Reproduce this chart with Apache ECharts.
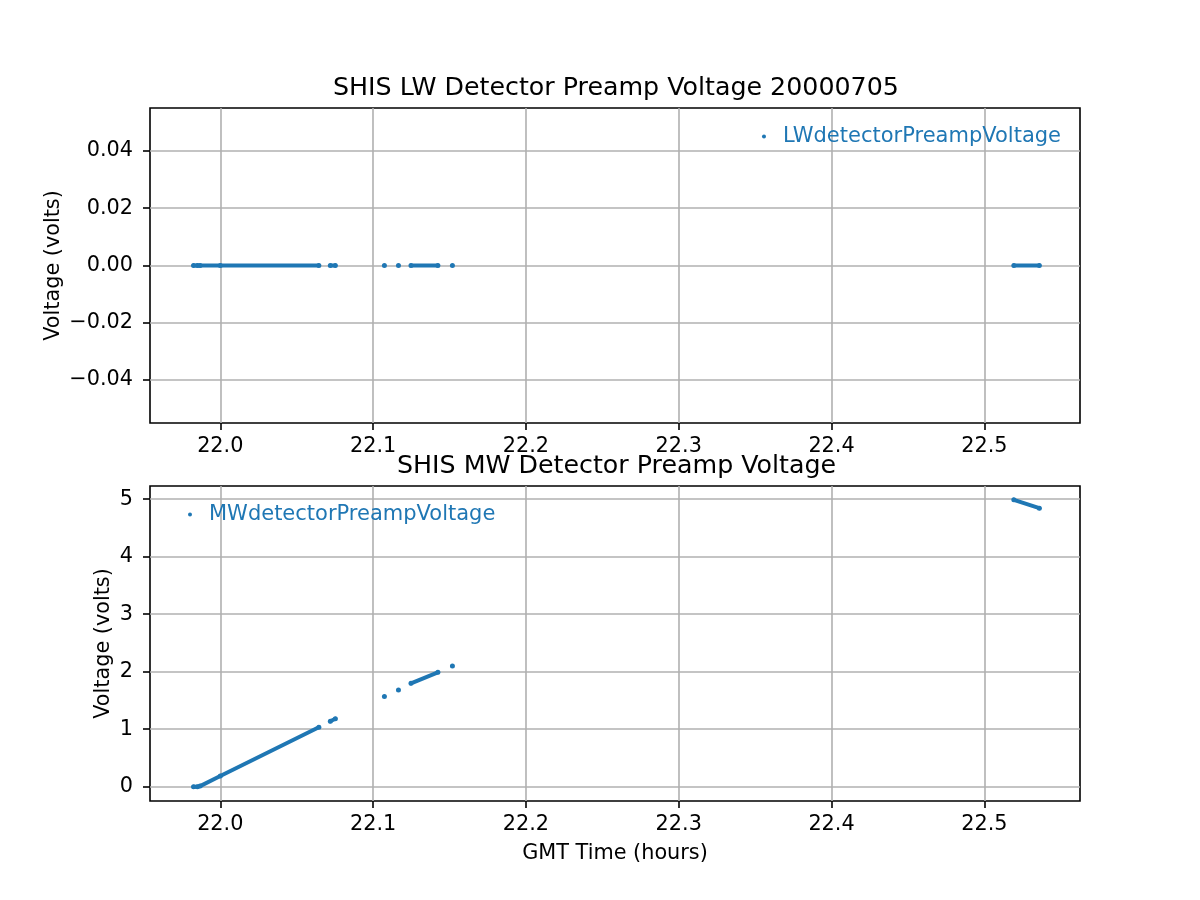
<!DOCTYPE html>
<html>
<head>
<meta charset="utf-8">
<script src="https://cdn.jsdelivr.net/npm/echarts@6/dist/echarts.min.js"></script>
<style>html,body{margin:0;padding:0;background:#fff}#c{width:1200px;height:900px}</style>
</head>
<body>
<div id="c"></div>
<script>
// Shared sample times (GMT hours); null marks a gap in the record
const gmtTime = [21.9825, 21.9850, 21.9868, 22.0000, 22.0645, null, 22.0720, 22.0753, null, 22.1074, null, 22.1166, null, 22.1248, 22.1424, null, 22.1519, null, 22.5193, 22.5360];
const lwVoltage = [0, 0, 0, 0, 0, null, 0, 0, null, 0, null, 0, null, 0, 0, null, 0, null, 0, 0];
const mwVoltage = [0, 0, 0.01, 0.185, 1.035, null, 1.137, 1.181, null, 1.570, null, 1.681, null, 1.797, 1.989, null, 2.100, null, 4.989, 4.844];
const xTicks = [22.0, 22.1, 22.2, 22.3, 22.4, 22.5];
const lwTicks = [-0.04, -0.02, 0.0, 0.02, 0.04];
const mwTicks = [0, 1, 2, 3, 4, 5];
const titleTop = 'SHIS LW Detector Preamp Voltage 20000705';
const titleBottom = 'SHIS MW Detector Preamp Voltage';
const lwName = 'LWdetectorPreampVoltage';
const mwName = 'MWdetectorPreampVoltage';

function pairs(t, v) {
  return t.map((x, i) => (x === null || v[i] === null) ? ['-', '-'] : [x, v[i]]);
}
const FONT = 'DejaVu Sans';
const BLUE = '#1f77b4';
const minus = s => s.replace('-', '\u2212');

function xAxis(grid, showName) {
  return {
    type: 'value', gridIndex: grid, min: 21.9540, max: 22.5626,
    axisLine: { show: false, onZero: false },
    axisTick: { show: true, inside: false, length: 7, lineStyle: { color: '#000', width: 1.6 }, customValues: xTicks },
    axisLabel: { customValues: xTicks, margin: 13, color: '#000', fontFamily: FONT, fontSize: 20.8, formatter: v => minus(v.toFixed(1)) },
    splitLine: { show: true, lineStyle: { color: '#b0b0b0', width: 1.6 } },
    name: showName ? 'GMT Time (hours)' : '', nameLocation: 'middle', nameGap: 42, nameMoveOverlap: false,
    nameTextStyle: { color: '#000', fontFamily: FONT, fontSize: 20.8 }
  };
}
function yAxis(grid, min, max, ticks, fmt, gap) {
  return {
    type: 'value', gridIndex: grid, min: min, max: max,
    axisLine: { show: false, onZero: false },
    axisTick: { show: true, inside: false, length: 7, lineStyle: { color: '#000', width: 1.6 }, customValues: ticks },
    axisLabel: { customValues: ticks, margin: 17, color: '#000', fontFamily: FONT, fontSize: 20.8, formatter: fmt },
    splitLine: { show: true, lineStyle: { color: '#b0b0b0', width: 1.6 } },
    name: 'Voltage (volts)', nameLocation: 'middle', nameGap: gap, nameRotate: 90, nameMoveOverlap: false,
    nameTextStyle: { color: '#000', fontFamily: FONT, fontSize: 20.8 }
  };
}
function series(name, xi, v) {
  return {
    type: 'line', name: name, xAxisIndex: xi, yAxisIndex: xi,
    data: pairs(gmtTime, v), connectNulls: false,
    symbol: 'circle', symbolSize: 5, showSymbol: true,
    itemStyle: { color: BLUE }, lineStyle: { color: BLUE, width: 4, cap: 'round' },
    emphasis: { disabled: true }, animation: false
  };
}
const titleStyle = { fontFamily: FONT, fontSize: 25.3, fontWeight: 'normal', color: '#000' };
const legendText = { color: BLUE, fontFamily: FONT, fontSize: 21, padding: [0, 0, 0, 12] };

const chart = echarts.init(document.getElementById('c'), null, { renderer: 'canvas' });
chart.setOption({
  backgroundColor: '#fff',
  animation: false,
  title: [
    { text: titleTop, left: 333, top: 76, padding: 0, textStyle: titleStyle },
    { text: titleBottom, left: 397, top: 454, padding: 0, textStyle: titleStyle }
  ],
  legend: [
    { data: [{ name: lwName, icon: 'circle' }], right: 139, top: 126, padding: 0, itemWidth: 4, itemHeight: 4, textStyle: legendText },
    { data: [{ name: mwName, icon: 'circle' }], left: 188, top: 504, padding: 0, itemWidth: 4, itemHeight: 4, textStyle: legendText }
  ],
  grid: [
    { left: 150, width: 930, top: 108, height: 315, show: true, borderColor: '#000', borderWidth: 1.6, backgroundColor: 'transparent', containLabel: false },
    { left: 150, width: 930, top: 486, height: 315, show: true, borderColor: '#000', borderWidth: 1.6, backgroundColor: 'transparent', containLabel: false }
  ],
  xAxis: [xAxis(0, false), xAxis(1, true)],
  yAxis: [
    yAxis(0, -0.055, 0.055, lwTicks, v => minus(v.toFixed(2)), 86),
    yAxis(1, -0.249, 5.23, mwTicks, v => String(Math.round(v)), 36)
  ],
  series: [series(lwName, 0, lwVoltage), series(mwName, 1, mwVoltage)]
});
</script>
</body>
</html>
